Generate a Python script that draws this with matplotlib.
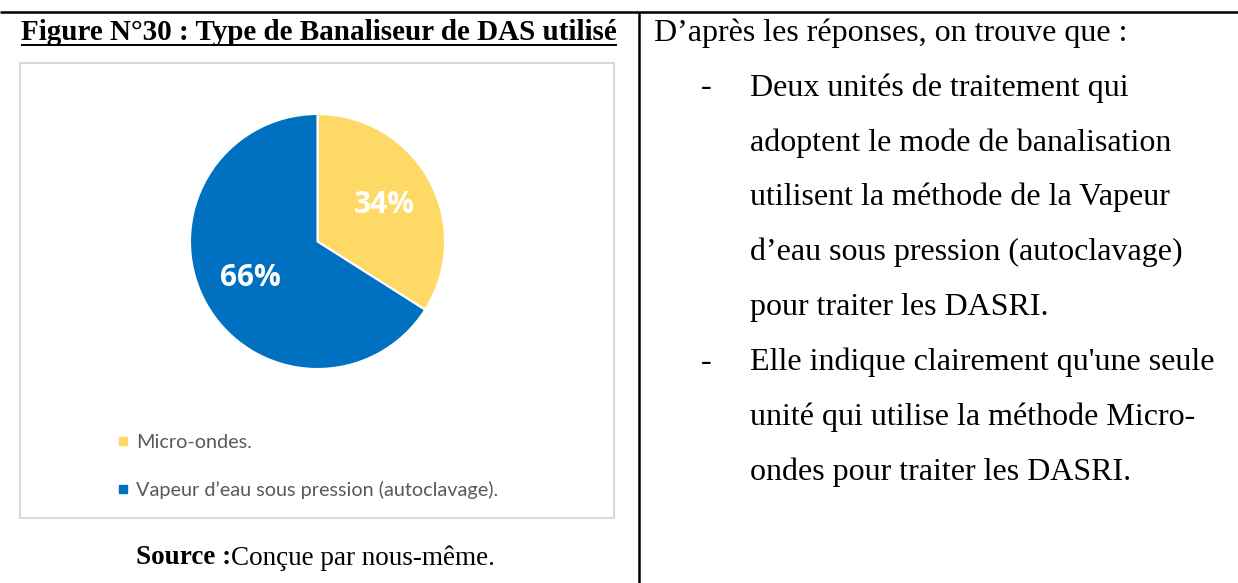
import matplotlib
matplotlib.use("Agg")
import matplotlib.pyplot as plt
from matplotlib.lines import Line2D
from matplotlib.patches import Rectangle

# pie data
labels = ["Micro-ondes.", "Vapeur d\u2019eau sous pression (autoclavage)."]
shares = [34, 66]
colors = ["#FFD966", "#0070C0"]

# page text
title = "Figure N°30 : Type de Banaliseur de DAS utilisé"
source_bold = "Source :"
source_rest = "Conçue par nous-même."
intro = "D\u2019après les réponses, on trouve que :"
bullets = [
    ["Deux unités de traitement qui",
     "adoptent le mode de banalisation",
     "utilisent la méthode de la Vapeur",
     "d\u2019eau sous pression (autoclavage)",
     "pour traiter les DASRI."],
    ["Elle indique clairement qu'une seule",
     "unité qui utilise la méthode Micro-",
     "ondes pour traiter les DASRI."],
]

W, H = 1238, 583
serif = "Liberation Serif"

fig = plt.figure(figsize=(W / 100, H / 100), dpi=100)
page = fig.add_axes([0, 0, 1, 1])
page.set_xlim(0, W)
page.set_ylim(H, 0)
page.axis("off")

# table rules
page.plot([0, W], [12, 12], color="black", lw=1.8, solid_capstyle="butt")
page.plot([639, 639], [12, H], color="black", lw=1.8, solid_capstyle="butt")

# chart frame
page.add_patch(Rectangle((20, 63), 594, 455, fill=False,
                         edgecolor="#D9D9D9", lw=1.5))

# title with underline
t = page.text(319, 32, title, ha="center", va="center", fontsize=21,
              fontweight="bold", family=serif)

# pie
cx, cy, r = 317.5, 241.5, 127.5
pie_ax = fig.add_axes([(cx - r) / W, (H - cy - r) / H, 2 * r / W, 2 * r / H])
wedges, _, autotexts = pie_ax.pie(
    shares, colors=colors, startangle=90, counterclock=False,
    autopct="%d%%", pctdistance=0.6,
    wedgeprops=dict(edgecolor="white", linewidth=1.5),
)
for at in autotexts:
    at.set_color("white")
    at.set_fontsize(21.5)
    at.set_fontweight("bold")
    at.set_family("Open Sans")
pie_ax.set_xlim(-1, 1)
pie_ax.set_ylim(-1, 1)
pie_ax.set_aspect("auto")
pie_ax.axis("off")

handles = [Line2D([], [], marker="s", linestyle="none", markersize=5.3,
                  markerfacecolor=c, markeredgecolor=c) for c in colors]
fig.legend(handles, labels, loc="center left",
           bbox_to_anchor=(119, 466.5), bbox_transform=page.transData,
           frameon=False, borderpad=0, borderaxespad=0,
           handlelength=0.45, handletextpad=0.4, labelspacing=1.5,
           prop=dict(family="Lato", size=14.3), labelcolor="#595959")

# source line
page.text(231, 558, source_bold, ha="right", va="center", fontsize=19.5,
          fontweight="bold", family=serif)
page.text(231, 558, source_rest, ha="left", va="center", fontsize=19.5,
          family=serif)

# right column text
step = 54.9
page.text(654, 33, intro, ha="left", va="center", fontsize=23, family=serif)
row = 1
for block in bullets:
    page.text(706, 33 + step * row, "-", ha="center", va="center",
              fontsize=23, family=serif)
    for line in block:
        page.text(750, 33 + step * row, line, ha="left", va="center",
                  fontsize=23, family=serif)
        row += 1

# underline under the title
fig.canvas.draw()
bb = t.get_window_extent().transformed(page.transData.inverted())
page.plot([bb.x0, bb.x1], [44.5, 44.5], color="black", lw=1.4,
          solid_capstyle="butt")

fig.savefig("out.png", dpi=100)
